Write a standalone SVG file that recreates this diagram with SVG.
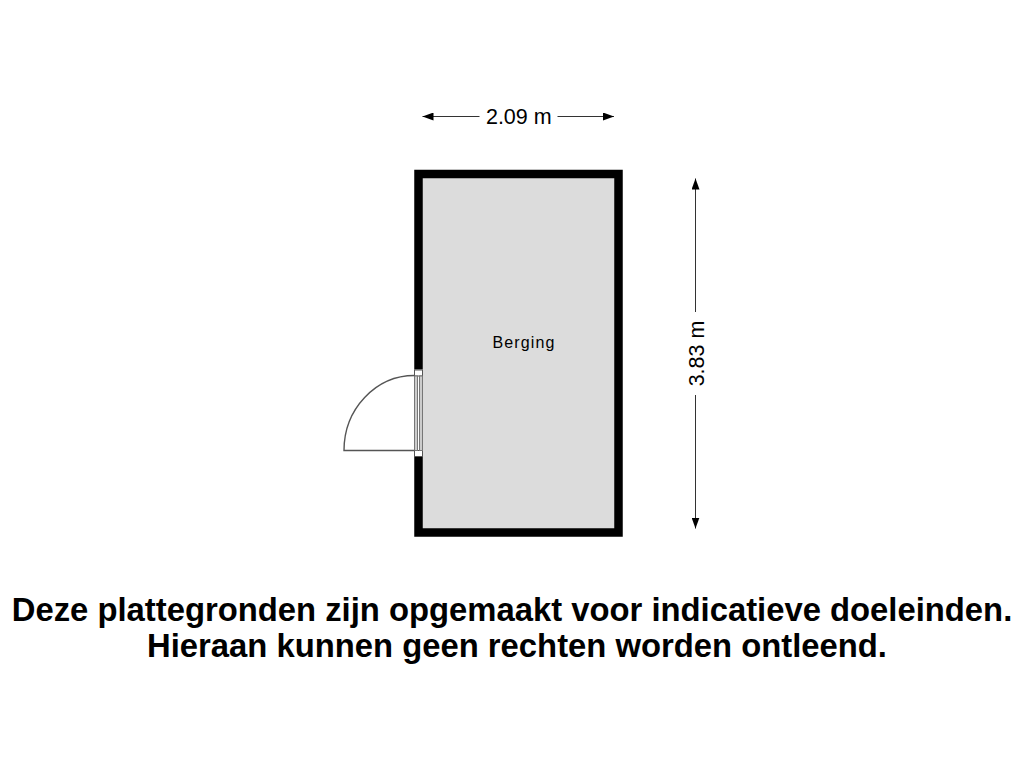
<svg xmlns="http://www.w3.org/2000/svg" width="1024" height="768" viewBox="0 0 1024 768">
<style>
text{font-family:"Liberation Sans",Arial,sans-serif;fill:#000}
.dim{font-size:21.500px}
.note{font-size:32.800px;font-weight:bold;text-anchor:middle}
.dl{stroke:#333;stroke-width:1;fill:none}
.door{stroke:#555;stroke-width:1.400;fill:none}
</style>
<defs>
<marker id="a" markerUnits="userSpaceOnUse" markerWidth="12" markerHeight="8" refX="11" refY="4" orient="auto"><path d="M0 0L11 4L0 8Z" fill="#000"/></marker>
</defs>
<g id="room-berging">
<rect x="418.500" y="174" width="200" height="358.500" fill="#dcdcdc" stroke="#000" stroke-width="8.500"/>
<text x="524" y="347.500" font-size="16" letter-spacing="1.150" text-anchor="middle" fill="#111">Berging</text>
</g>
<g id="door">
<rect x="414" y="369.500" width="9" height="87" fill="#fff"/>
<rect x="414.500" y="370" width="8" height="6" fill="#fff" stroke="#555" stroke-width="1"/>
<rect x="414.500" y="450.500" width="8" height="6" fill="#fff" stroke="#555" stroke-width="1"/>
<rect x="414.500" y="376" width="3" height="74.500" fill="#ccc" stroke="#777" stroke-width="1"/>
<rect x="419.500" y="376" width="3" height="74.500" fill="#ccc" stroke="#777" stroke-width="1"/>
<path class="door" d="M414.500 375.500A70.500 75 0 0 0 344 450.500H414.500"/>
</g>
<g id="connectors">
<path d="M479.500 116.500H422.500" class="dl" marker-end="url(#a)"/>
<path d="M557.500 116.500H614" class="dl" marker-end="url(#a)"/>
<path d="M695.500 312V178.500" class="dl" marker-end="url(#a)"/>
<path d="M695.500 395V528.500" class="dl" marker-end="url(#a)"/>
</g>
<g id="labels">
<text class="dim" x="518.800" y="123.700" text-anchor="middle">2.09 m</text>
<text class="dim" transform="translate(703.500,353.500) rotate(-90)" text-anchor="middle">3.83 m</text>
<text class="note" x="512" y="620.500">Deze plattegronden zijn opgemaakt voor indicatieve doeleinden.</text>
<text class="note" x="517" y="656.500">Hieraan kunnen geen rechten worden ontleend.</text>
</g>
</svg>
